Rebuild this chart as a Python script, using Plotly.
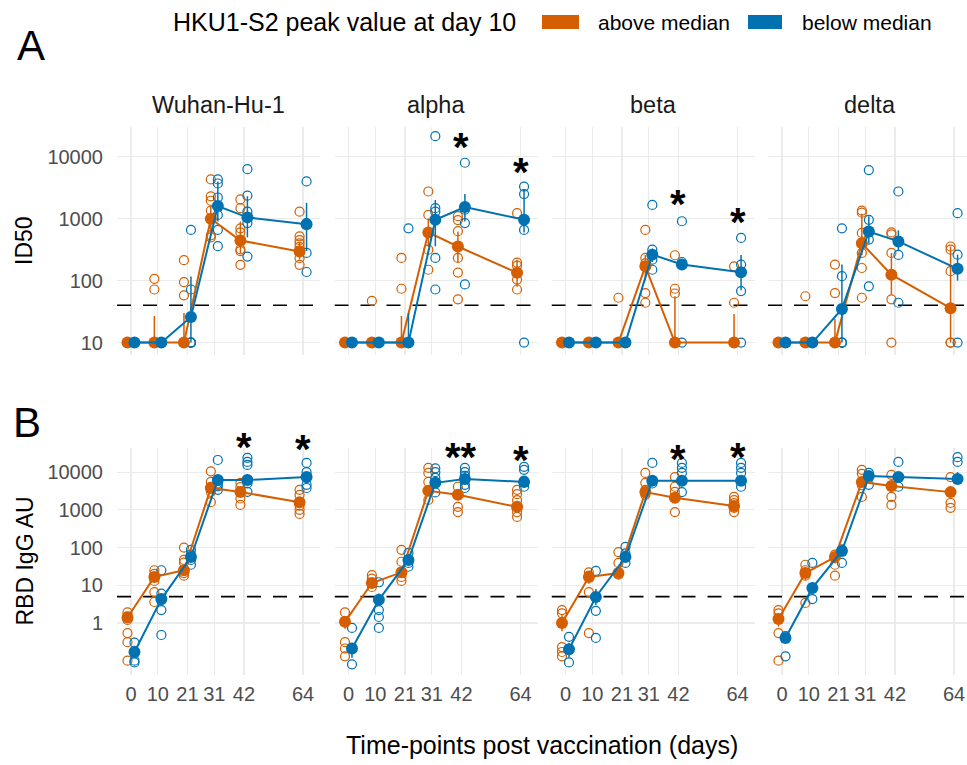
import math
import plotly.graph_objects as go

# ---------------- data ----------------
DAYS = [0, 10, 21, 31, 42, 64]
VARIANTS = ["Wuhan-Hu-1", "alpha", "beta", "delta"]
GROUPS = ["above median", "below median"]
LEGEND_TITLE = "HKU1-S2 peak value at day 10"
ID50_LOD = 40
RBD_LOD = 5

# ---- ID50 ----
ID50_WUHAN_ABOVE_PTS = [[10, 10, 10, 10, 10, 10, 10], [107, 72, 10, 10, 10, 10, 10], [214, 95, 58, 10, 10, 10, 10],
                        [4300, 2300, 1950, 1350, 540, 500], [2050, 1480, 700, 600, 320, 300, 180], [1300, 520, 450, 400, 350, 230, 180]]
ID50_WUHAN_ABOVE_MEAN = [10, 10, 10, 1000, 445, 296]
ID50_WUHAN_ABOVE_ERR = [(10, 10), (10, 27), (10, 30), (620, 1600), (280, 900), (220, 420)]
ID50_WUHAN_BELOW_PTS = [[10, 10, 10, 10, 10, 10], [10, 10, 10, 10, 10, 10], [660, 72, 10, 10, 10, 10],
                        [4300, 3700, 2200, 1150, 660, 360], [6300, 2350, 1300, 850, 245], [4000, 850, 280, 138]]
ID50_WUHAN_BELOW_MEAN = [10, 10, 26, 1600, 1050, 815]
ID50_WUHAN_BELOW_ERR = [(10, 10), (10, 10), (10, 117), (900, 4000), (500, 2300), (300, 1800)]

ID50_ALPHA_ABOVE_PTS = [[10, 10, 10, 10, 10, 10, 10], [47, 10, 10, 10, 10, 10, 10], [233, 74, 10, 10, 10, 10, 10],
                        [2750, 1150, 600, 316, 150], [1100, 950, 630, 233, 135, 50], [1230, 195, 175, 104, 72]]
ID50_ALPHA_ABOVE_MEAN = [10, 10, 10, 600, 356, 134]
ID50_ALPHA_ABOVE_ERR = [(10, 10), (10, 10), (10, 27), (350, 1000), (200, 620), (80, 220)]
ID50_ALPHA_BELOW_PTS = [[10, 10, 10, 10, 10, 10], [10, 10, 10, 10, 10, 10], [700, 10, 10, 10, 10, 10],
                        [21500, 1480, 1300, 233, 72], [8000, 1400, 850, 87], [3300, 2500, 660, 10]]
ID50_ALPHA_BELOW_MEAN = [10, 10, 10, 960, 1540, 960]
ID50_ALPHA_BELOW_ERR = [(10, 10), (10, 10), (10, 30), (360, 2000), (900, 2500), (600, 3000)]

ID50_BETA_ABOVE_PTS = [[10, 10, 10, 10, 10, 10], [10, 10, 10, 10, 10, 10], [53, 10, 10, 10, 10, 10],
                       [660, 233, 190, 63, 44], [257, 74, 62, 10, 10, 10], [170, 44, 10, 10, 10, 10]]
ID50_BETA_ABOVE_MEAN = [10, 10, 10, 170, 10, 10]
ID50_BETA_ABOVE_ERR = [(10, 10), (10, 10), (10, 10), (100, 260), (10, 56), (10, 29)]
ID50_BETA_BELOW_PTS = [[10, 10, 10, 10, 10, 10], [10, 10, 10, 10, 10, 10], [10, 10, 10, 10, 10, 10],
                       [1670, 316, 218, 150], [910, 200, 10], [490, 182, 68, 10]]
ID50_BETA_BELOW_MEAN = [10, 10, 10, 263, 182, 137]
ID50_BETA_BELOW_ERR = [(10, 10), (10, 10), (10, 10), (200, 330), (150, 220), (70, 260)]

ID50_DELTA_ABOVE_PTS = [[10, 10, 10, 10, 10, 10], [56, 10, 10, 10, 10, 10], [182, 63, 10, 10, 10, 10],
                        [1350, 1250, 590, 280, 160, 53], [600, 560, 280, 50, 10], [356, 316, 142, 10, 10]]
ID50_DELTA_ABOVE_MEAN = [10, 10, 10, 400, 125, 36]
ID50_DELTA_ABOVE_ERR = [(10, 10), (10, 10), (10, 24), (260, 1200), (60, 280), (10, 356)]
ID50_DELTA_BELOW_PTS = [[10, 10, 10, 10, 10, 10], [10, 10, 10, 10, 10, 10], [700, 118, 10, 10, 10],
                        [6100, 960, 460, 81], [2750, 260, 44], [1230, 263, 10]]
ID50_DELTA_BELOW_MEAN = [10, 10, 35, 620, 430, 155]
ID50_DELTA_BELOW_ERR = [(10, 10), (10, 10), (10, 182), (400, 1100), (300, 650), (100, 263)]

# ---- RBD IgG AU ----
RBD_WUHAN_ABOVE_PTS = [[1.9, 1.5, 1.2, 0.54, 0.31, 0.1], [25, 20, 13, 6.6, 3.6], [100, 47, 40, 21, 18],
                       [10500, 5500, 4100, 3000, 1600], [5200, 4000, 2000, 1350], [3400, 2500, 1300, 1000, 780]]
RBD_WUHAN_ABOVE_MEAN = [1.4, 16.6, 25, 3800, 2960, 1600]
RBD_WUHAN_ABOVE_ERR = [(1.1, 1.8), (12, 21), (20, 35), (3000, 5000), (2300, 3700), (1200, 2100)]
RBD_WUHAN_BELOW_PTS = [[0.3, 0.16, 0.1, 0.09], [25, 6, 4, 2.2, 0.48], [87, 65, 47, 35],
                       [21000, 5000, 4200, 3400], [24000, 18600, 15500, 5000, 3000], [17500, 10000, 7000, 4600, 3800]]
RBD_WUHAN_BELOW_MEAN = [0.17, 4.3, 56, 6200, 6200, 7400]
RBD_WUHAN_BELOW_ERR = [(0.12, 0.25), (3, 6), (45, 70), (4500, 8000), (4500, 8500), (5500, 9500)]

RBD_ALPHA_ABOVE_PTS = [[1.9, 0.31, 0.21, 0.13], [18.6, 15, 9], [87, 42, 16.6, 13],
                       [13000, 9500, 5500, 1830], [4100, 2500, 1200, 870], [3400, 2600, 1800, 870, 650]]
RBD_ALPHA_ABOVE_MEAN = [1.07, 11.5, 22, 3200, 2500, 1200]
RBD_ALPHA_ABOVE_ERR = [(0.7, 1.5), (9, 15), (16, 30), (2400, 4200), (1900, 3200), (900, 1600)]
RBD_ALPHA_BELOW_PTS = [[0.74, 0.21, 0.08], [12, 4, 2.2, 1.44, 0.74], [72, 47, 39, 31],
                       [12600, 10000, 7000, 2900], [13000, 10000, 8000, 4600, 3800], [13800, 11500, 6000, 4100]]
RBD_ALPHA_BELOW_MEAN = [0.21, 4.1, 47, 5200, 6600, 5500]
RBD_ALPHA_BELOW_ERR = [(0.12, 0.3), (2.8, 6), (38, 58), (3800, 7000), (5200, 8300), (4000, 7500)]

RBD_BETA_ABOVE_PTS = [[2.2, 1.8, 0.23, 0.17, 0.13], [22, 18, 6.6, 0.54], [76, 39, 19],
                      [9500, 5200, 3400, 2500], [7400, 4100, 3000, 870], [2200, 1800, 1500, 1130, 870]]
RBD_BETA_ABOVE_MEAN = [1.0, 16.6, 21, 2950, 2100, 1260]
RBD_BETA_ABOVE_ERR = [(0.6, 1.6), (11, 22), (16, 28), (2200, 4000), (1500, 2900), (1000, 1550)]
RBD_BETA_BELOW_PTS = [[0.43, 0.2, 0.09], [24, 2.1, 0.4], [104, 70, 39],
                      [17500, 5000], [17500, 13000, 9500, 2950], [17500, 13000, 9500, 4100]]
RBD_BETA_BELOW_MEAN = [0.2, 4.9, 56, 5900, 5900, 5900]
RBD_BETA_BELOW_ERR = [(0.12, 0.3), (3, 8), (42, 72), (4300, 8000), (4300, 8000), (4300, 8000)]

RBD_DELTA_ABOVE_PTS = [[2.2, 1.8, 0.54, 0.1], [35, 25, 18, 3.4], [65, 35, 18],
                       [11500, 9000, 4500, 2200], [8500, 2200, 1350], [7400, 1520, 1130]]
RBD_DELTA_ABOVE_MEAN = [1.27, 21, 56, 5500, 4300, 2950]
RBD_DELTA_ABOVE_ERR = [(0.8, 1.8), (14, 30), (38, 75), (4000, 7500), (3000, 6000), (2100, 4100)]
RBD_DELTA_BELOW_PTS = [[0.45, 0.13], [39, 4.3], [90, 39], [9500, 4600], [18600, 4100], [25000, 18600, 6600]]
RBD_DELTA_BELOW_MEAN = [0.4, 8.5, 81, 7900, 7400, 6600]
RBD_DELTA_BELOW_ERR = [(0.3, 0.5), (6, 12), (65, 100), (6000, 10000), (5500, 10000), (5000, 10000)]

# significance labels: (variant, day, label, height of label)
SIG_ID50 = [("alpha", 42, "*", 18600), ("alpha", 64, "*", 7400), ("beta", 42, "*", 2240), ("beta", 64, "*", 1150)]
SIG_RBD = [("Wuhan-Hu-1", 42, "*", 71000), ("Wuhan-Hu-1", 64, "*", 63000), ("alpha", 42, "**", 39000),
           ("alpha", 64, "*", 32000), ("beta", 42, "*", 34500), ("beta", 64, "*", 39000)]

# ---------------- assemble ----------------
SERIES = {
    ("ID50", "Wuhan-Hu-1", 0): (ID50_WUHAN_ABOVE_PTS, ID50_WUHAN_ABOVE_MEAN, ID50_WUHAN_ABOVE_ERR),
    ("ID50", "Wuhan-Hu-1", 1): (ID50_WUHAN_BELOW_PTS, ID50_WUHAN_BELOW_MEAN, ID50_WUHAN_BELOW_ERR),
    ("ID50", "alpha", 0): (ID50_ALPHA_ABOVE_PTS, ID50_ALPHA_ABOVE_MEAN, ID50_ALPHA_ABOVE_ERR),
    ("ID50", "alpha", 1): (ID50_ALPHA_BELOW_PTS, ID50_ALPHA_BELOW_MEAN, ID50_ALPHA_BELOW_ERR),
    ("ID50", "beta", 0): (ID50_BETA_ABOVE_PTS, ID50_BETA_ABOVE_MEAN, ID50_BETA_ABOVE_ERR),
    ("ID50", "beta", 1): (ID50_BETA_BELOW_PTS, ID50_BETA_BELOW_MEAN, ID50_BETA_BELOW_ERR),
    ("ID50", "delta", 0): (ID50_DELTA_ABOVE_PTS, ID50_DELTA_ABOVE_MEAN, ID50_DELTA_ABOVE_ERR),
    ("ID50", "delta", 1): (ID50_DELTA_BELOW_PTS, ID50_DELTA_BELOW_MEAN, ID50_DELTA_BELOW_ERR),
    ("RBD", "Wuhan-Hu-1", 0): (RBD_WUHAN_ABOVE_PTS, RBD_WUHAN_ABOVE_MEAN, RBD_WUHAN_ABOVE_ERR),
    ("RBD", "Wuhan-Hu-1", 1): (RBD_WUHAN_BELOW_PTS, RBD_WUHAN_BELOW_MEAN, RBD_WUHAN_BELOW_ERR),
    ("RBD", "alpha", 0): (RBD_ALPHA_ABOVE_PTS, RBD_ALPHA_ABOVE_MEAN, RBD_ALPHA_ABOVE_ERR),
    ("RBD", "alpha", 1): (RBD_ALPHA_BELOW_PTS, RBD_ALPHA_BELOW_MEAN, RBD_ALPHA_BELOW_ERR),
    ("RBD", "beta", 0): (RBD_BETA_ABOVE_PTS, RBD_BETA_ABOVE_MEAN, RBD_BETA_ABOVE_ERR),
    ("RBD", "beta", 1): (RBD_BETA_BELOW_PTS, RBD_BETA_BELOW_MEAN, RBD_BETA_BELOW_ERR),
    ("RBD", "delta", 0): (RBD_DELTA_ABOVE_PTS, RBD_DELTA_ABOVE_MEAN, RBD_DELTA_ABOVE_ERR),
    ("RBD", "delta", 1): (RBD_DELTA_BELOW_PTS, RBD_DELTA_BELOW_MEAN, RBD_DELTA_BELOW_ERR),
}
SIGS = {"ID50": SIG_ID50, "RBD": SIG_RBD}
LODS = {"ID50": ID50_LOD, "RBD": RBD_LOD}
ASSAYS = ["ID50", "RBD"]
ASSAY_TITLES = ["ID50", "RBD IgG AU"]
YTICKS = {"ID50": [10, 100, 1000, 10000], "RBD": [1, 10, 100, 1000, 10000]}

# ---------------- styling / geometry ----------------
W, H = 967, 765
FONT = "Liberation Sans, Arial, sans-serif"
COLORS = ["#D55E00", "#0072B2"]
GRID = "#EBEBEB"
TICKC = "#4D4D4D"
DODGE = 1.3
PANEL_LEFT = [117, 334.5, 551.5, 768]
PANEL_W = 203
ROW_TOP = [127, 448]
ROW_BOT = [355, 675]
XRANGE = (-5.2, 70.3)
YRANGE = {"ID50": (0.8, 4.48), "RBD": (-1.38, 4.64)}

fig = go.Figure()
layout = {}
annotations = []
shapes = []


def paper_text(x, y, text, size, color="black", xanchor="center", angle=0):
    return dict(x=x / W, y=1 - y / H, xref="paper", yref="paper", text=text, showarrow=False,
                xanchor=xanchor, yanchor="middle", textangle=angle,
                font=dict(family=FONT, size=size, color=color))


for r, assay in enumerate(ASSAYS):
    for c, var in enumerate(VARIANTS):
        idx = r * 4 + c + 1
        xa = "x" if idx == 1 else f"x{idx}"
        ya = "y" if idx == 1 else f"y{idx}"
        left = PANEL_LEFT[c]
        right = min(left + PANEL_W, W)
        xmax = XRANGE[0] + (right - left) / PANEL_W * (XRANGE[1] - XRANGE[0])
        layout["xaxis" if idx == 1 else f"xaxis{idx}"] = dict(
            domain=[left / W, right / W], range=[XRANGE[0], xmax], anchor=ya,
            tickmode="array", tickvals=DAYS, ticktext=[str(d) for d in DAYS],
            showticklabels=(r == 1), showgrid=True, gridcolor=GRID, gridwidth=1.2,
            zeroline=False, showline=False, ticks="", ticklabelstandoff=5,
            tickfont=dict(family=FONT, size=20, color=TICKC))
        layout["yaxis" if idx == 1 else f"yaxis{idx}"] = dict(
            domain=[1 - ROW_BOT[r] / H, 1 - ROW_TOP[r] / H], type="log",
            range=list(YRANGE[assay]), anchor=xa,
            tickmode="array", tickvals=YTICKS[assay], ticktext=[str(v) for v in YTICKS[assay]],
            showticklabels=(c == 0), showgrid=True, gridcolor=GRID, gridwidth=1.2,
            zeroline=False, showline=False, ticks="", ticklabelstandoff=13,
            tickfont=dict(family=FONT, size=20, color=TICKC))

        # detection limit
        lod = LODS[assay]
        fig.add_trace(go.Scatter(x=[XRANGE[0], xmax], y=[lod, lod], mode="lines",
                                 line=dict(color="black", width=1.6, dash="14px,12px"),
                                 xaxis=xa, yaxis=ya, showlegend=False, hoverinfo="skip"))
        # individual values
        for g in range(2):
            pts, mean, err = SERIES[(assay, var, g)]
            off = -DODGE if g == 0 else DODGE
            xs, ys = [], []
            for d, vals in zip(DAYS, pts):
                xs += [d + off] * len(vals)
                ys += vals
            fig.add_trace(go.Scatter(x=xs, y=ys, mode="markers", xaxis=xa, yaxis=ya,
                                     marker=dict(symbol="circle-open", size=9, color=COLORS[g],
                                                 line=dict(width=1.2, color=COLORS[g])),
                                     showlegend=False, hoverinfo="skip"))
        # means
        for g in range(2):
            pts, mean, err = SERIES[(assay, var, g)]
            off = -DODGE if g == 0 else DODGE
            fig.add_trace(go.Scatter(
                x=[d + off for d in DAYS], y=mean, mode="lines+markers", xaxis=xa, yaxis=ya,
                line=dict(color=COLORS[g], width=2),
                marker=dict(size=12, color=COLORS[g]),
                error_y=dict(type="data", symmetric=False,
                             array=[hi - m for (lo, hi), m in zip(err, mean)],
                             arrayminus=[m - lo for (lo, hi), m in zip(err, mean)],
                             width=0, thickness=1.5, color=COLORS[g]),
                showlegend=False, hoverinfo="skip"))

        # significance stars (positioned through the log scale, allowed above the panel)
        r0, r1 = YRANGE[assay]
        for (v, day, lab, yv) in SIGS[assay]:
            if v == var:
                annotations.append(dict(x=day, y=(math.log10(yv) - r0) / (r1 - r0),
                                        xref=xa, yref=f"{ya} domain", text=lab,
                                        showarrow=False, yshift=-7, xanchor="center", yanchor="middle",
                                        font=dict(family=FONT, size=40, color="black", weight="bold")))

        if r == 0:
            annotations.append(paper_text(left + PANEL_W / 2, 105, var, 23.5, "#1A1A1A"))

# axis titles and panel letters
for r in range(2):
    annotations.append(paper_text(24, (ROW_TOP[r] + ROW_BOT[r]) / 2, ASSAY_TITLES[r], 23, angle=-90))
annotations.append(paper_text(542, 745, "Time-points post vaccination (days)", 25))
annotations.append(paper_text(31, 45, "A", 42))
annotations.append(paper_text(27, 422, "B", 42))

# legend (drawn)
annotations.append(paper_text(518, 22, LEGEND_TITLE, 25, xanchor="right"))
LEG_SWATCH = [(542, 579), (748, 782)]
LEG_TEXT_X = [596, 800]
for g in range(2):
    x0, x1 = LEG_SWATCH[g]
    shapes.append(dict(type="rect", xref="paper", yref="paper", x0=x0 / W, x1=x1 / W,
                       y0=1 - 29 / H, y1=1 - 15 / H, fillcolor=COLORS[g], line=dict(width=0)))
    annotations.append(paper_text(LEG_TEXT_X[g], 22, GROUPS[g], 21, xanchor="left"))

fig.update_layout(width=W, height=H, margin=dict(l=0, r=0, t=0, b=0),
                  paper_bgcolor="white", plot_bgcolor="white", showlegend=False,
                  annotations=annotations, shapes=shapes, **layout)
fig.write_html("out.html", config={"displayModeBar": False, "staticPlot": True},
               post_script="document.body.style.margin='0px';document.body.style.padding='0px';"
                           "document.documentElement.style.overflow='hidden';")
